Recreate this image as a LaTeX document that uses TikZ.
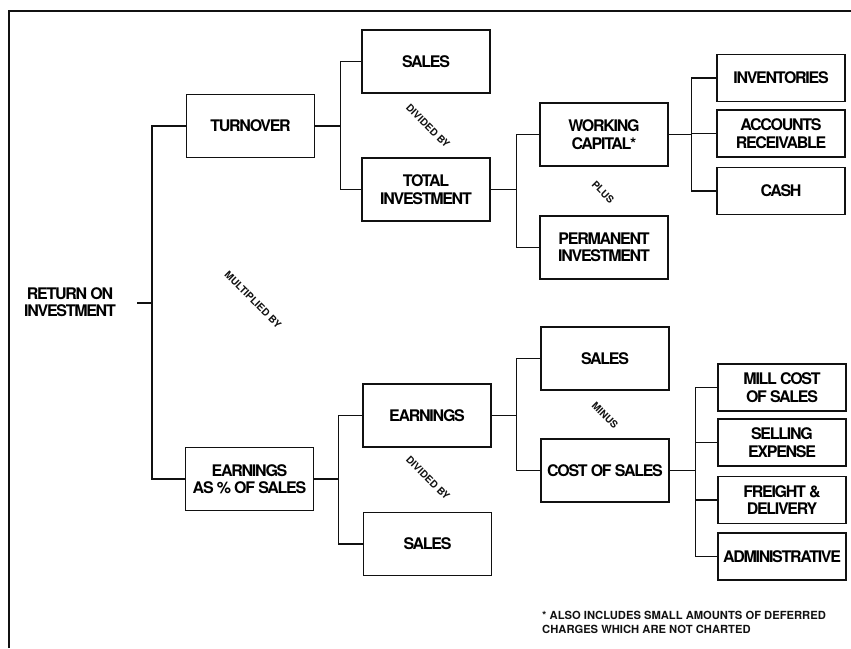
\documentclass[tikz,border=0pt]{standalone}
\usepackage{fontspec}
\setmainfont{TeX Gyre Heros}
\newfontfamily\boxfont[LetterSpace=-8]{TeX Gyre Heros}
\usepackage{xcolor}
\usepackage{tikz}
\usetikzlibrary{positioning, calc}
\definecolor{ink}{HTML}{111111}
\tikzset{
  block/.style    = {rectangle, draw=ink, line width=1.2pt, fill=white,
                     minimum width=128pt, minimum height=63pt, inner sep=2pt,
                     align=center, font=\boxfont\fontsize{16}{17.5}\selectfont\bfseries},
  leaf/.style     = {block, minimum height=47pt},
  oper/.style     = {rotate=-45, inner sep=0pt, text=ink,
                     font=\fontsize{10}{11}\selectfont\bfseries},
  link/.style     = {draw=ink, line width=1.2pt},
}

\begin{document}
\begin{tikzpicture}[x=1pt, y=-1pt]
  \useasboundingbox (0,0) rectangle (851,648);
  \draw[ink, line width=1.4pt] (9,648) -- (9,11) -- (851,11);

  % first level
  \node[font=\boxfont\fontsize{16}{17.5}\selectfont\bfseries, align=center] (roi) at (70,302)
       {RETURN ON\\INVESTMENT};
  \coordinate (roi-out) at (137,303);
  \node[block] (turn) at (250.5,126) {TURNOVER};
  \node[block] (earnpct) at (249.5,479) {EARNINGS\\AS \% OF SALES};

  % turnover branch
  \node[block] (salesA) at (426,61.5) {SALES};
  \node[block] (totinv) at (426,189.5) {TOTAL\\INVESTMENT};
  \node[block] (workcap) at (604,134.5) {WORKING\\CAPITAL*};
  \node[block] (perminv) at (604,247.5) {PERMANENT\\INVESTMENT};
  \node[leaf] (invent) at (781,78) {INVENTORIES};
  \node[leaf] (accrec) at (781,133.5) {ACCOUNTS\\RECEIVABLE};
  \node[leaf] (cash) at (781,191) {CASH};

  % earnings branch
  \node[block] (earn) at (427,415.5) {EARNINGS};
  \node[block] (salesB) at (427.5,544) {SALES};
  \node[block] (salesC) at (605,358.5) {SALES};
  \node[block] (cost) at (605,470.5) {COST OF SALES};
  \node[leaf] (mill) at (782,387.5) {MILL COST\\OF SALES};
  \node[leaf] (selling) at (782,442.5) {SELLING\\EXPENSE};
  \node[leaf] (freight) at (782,500) {FREIGHT \&\\DELIVERY};
  \node[leaf] (admin) at (782,556.5) {ADMINISTRATIVE};

  \draw[link] (roi-out) -- ++(15,0) |- (turn.west);
  \draw[link] (roi-out) -- ++(15,0) |- (earnpct.west);
  \draw[link] (turn.east) -- ++(25,0) |- (salesA.west);
  \draw[link] (turn.east) -- ++(25,0) |- (totinv.west);
  \draw[link] (totinv.east) -- ++(26,0) |- (workcap.west);
  \draw[link] (totinv.east) -- ++(26,0) |- (perminv.west);
  \draw[link] (workcap.east) -- ++(23,0) |- (invent.west);
  \draw[link] (workcap.east) -- ++(23,0) |- (accrec.west);
  \draw[link] (workcap.east) -- ++(23,0) |- (cash.west);
  \draw[link] (earnpct.east) -- ++(24,0) |- (earn.west);
  \draw[link] (earnpct.east) -- ++(24,0) |- (salesB.west);
  \draw[link] (earn.east) -- ++(25,0) |- (salesC.west);
  \draw[link] (earn.east) -- ++(25,0) |- (cost.west);
  \draw[link] (cost.east) -- ++(26,0) |- (mill.west);
  \draw[link] (cost.east) -- ++(26,0) |- (selling.west);
  \draw[link] (cost.east) -- ++(26,0) |- (freight.west);
  \draw[link] (cost.east) -- ++(26,0) |- (admin.west);

  % operators
  \node[oper] (op-mult) at (253,300) {MULTIPLIED BY};
  \node[oper] (op-divA) at (428,126) {DIVIDED BY};
  \node[oper] (op-plus) at (603,192) {PLUS};
  \node[oper] (op-divB) at (428,478) {DIVIDED BY};
  \node[oper] (op-minus) at (605,415) {MINUS};

  \node[anchor=north west, align=left, inner sep=0pt, text=ink,
        font=\fontsize{11.2}{13.5}\selectfont\bfseries] (note) at (542,611)
       {* ALSO INCLUDES SMALL AMOUNTS OF DEFERRED\\CHARGES WHICH ARE NOT CHARTED};

\end{tikzpicture}
\end{document}
